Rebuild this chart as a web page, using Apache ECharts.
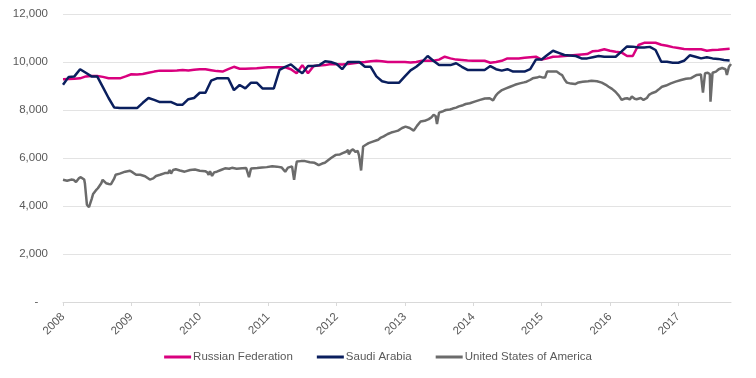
<!DOCTYPE html>
<html>
<head>
<meta charset="utf-8">
<script src="https://cdn.jsdelivr.net/npm/echarts@6/dist/echarts.min.js"></script>
<style>
html,body{margin:0;padding:0;background:#fff;}
#chart{width:756px;height:378px;}
</style>
</head>
<body>
<div id="chart"></div>
<script>
// Monthly series, starting January 2008
var startYear = 2008;
var russia = [9280,9290,9300,9320,9400,9420,9420,9380,9320,9320,9320,9400,
  9490,9480,9500,9550,9600,9640,9640,9640,9650,9670,9650,9680,
  9700,9700,9660,9620,9600,9700,9800,9720,9720,9730,9740,9760,
  9780,9780,9780,9780,9700,9530,9870,9530,9830,9850,9870,9920,
  9910,9900,9920,9950,9980,10000,10030,10050,10030,10000,10000,10000,
  10000,9980,10000,10050,10050,10050,10100,10220,10150,10100,10080,10060,
  10050,10050,10050,9970,10000,10050,10150,10150,10150,10180,10200,10220,
  10100,10150,10220,10230,10250,10270,10290,10310,10330,10450,10470,10530,
  10470,10430,10400,10250,10250,10710,10800,10800,10800,10720,10680,10620,
  10580,10540,10530,10530,10530,10470,10500,10510,10530,10550];
var saudi = [9050,9380,9400,9700,9550,9400,9400,8950,8500,8100,8080,8080,
  8080,8080,8300,8500,8420,8330,8330,8330,8220,8220,8450,8500,
  8720,8720,9220,9320,9320,9320,8830,9040,8900,9140,9140,8900,
  8900,8900,9670,9800,9900,9700,9530,9830,9830,9870,10030,10000,
  9920,9700,10000,10000,10000,9800,9800,9400,9200,9140,9140,9140,
  9400,9650,9800,10000,10250,10050,9870,9870,9870,9950,9800,9670,
  9670,9670,9670,9830,9700,9640,9700,9600,9600,9600,9700,10100,
  10100,10290,10470,10380,10290,10270,10250,10150,10150,10200,10250,10220,
  10220,10220,10430,10650,10640,10600,10600,10630,10500,10010,10010,9970,
  9970,10050,10280,10220,10150,10200,10150,10130,10080,10060];
// United States: irregular dates (decimal years)
var usYears = [2008.00,2008.06,2008.12,2008.16,2008.19,2008.23,2008.26,2008.31,2008.32,2008.35,2008.38,2008.39,2008.42,2008.44,2008.48,2008.51,2008.56,2008.58,2008.63,2008.67,2008.70,2008.75,2008.77,2008.83,2008.91,2008.98,
  2009.02,2009.07,2009.13,2009.20,2009.27,2009.32,2009.36,2009.42,2009.49,2009.54,2009.56,2009.58,2009.61,2009.65,2009.71,2009.78,2009.86,2009.93,
  2010.00,2010.08,2010.11,2010.13,2010.15,2010.18,2010.21,2010.25,2010.31,2010.37,2010.43,2010.47,2010.54,2010.62,2010.68,2010.69,2010.72,2010.75,2010.76,2010.84,2010.91,2010.98,
  2011.06,2011.13,2011.20,2011.25,2011.29,2011.35,2011.38,2011.41,2011.42,2011.48,2011.54,2011.61,2011.68,2011.74,2011.79,2011.83,2011.92,2011.99,
  2012.05,2012.09,2012.14,2012.17,2012.18,2012.21,2012.24,2012.28,2012.31,2012.33,2012.36,2012.39,2012.43,2012.47,2012.53,2012.61,2012.65,2012.69,2012.75,2012.80,2012.85,2012.90,2012.96,
  2013.01,2013.07,2013.13,2013.18,2013.23,2013.29,2013.35,2013.39,2013.42,2013.45,2013.47,2013.50,2013.56,2013.60,2013.66,2013.70,2013.75,2013.79,2013.85,2013.89,2013.95,
  2014.02,2014.10,2014.17,2014.24,2014.29,2014.33,2014.36,2014.42,2014.48,2014.54,2014.61,2014.68,2014.74,2014.78,2014.83,2014.87,2014.93,2014.97,
  2015.02,2015.05,2015.08,2015.15,2015.22,2015.27,2015.30,2015.34,2015.37,2015.43,2015.49,2015.54,2015.60,2015.68,2015.73,2015.81,2015.88,2015.94,2015.98,
  2016.03,2016.08,2016.13,2016.17,2016.22,2016.25,2016.29,2016.32,2016.36,2016.39,2016.45,2016.49,2016.54,2016.57,2016.61,2016.67,2016.71,2016.76,2016.82,2016.89,2016.96,
  2017.04,2017.11,2017.18,2017.23,2017.27,2017.33,2017.36,2017.39,2017.43,2017.46,2017.47,2017.50,2017.55,2017.59,2017.64,2017.66,2017.69,2017.71,2017.74,2017.77];
var usValues = [5090,5050,5100,5080,5000,5150,5200,5100,4950,4050,3950,3910,4300,4500,4650,4740,4950,5090,4950,4920,4900,5150,5300,5350,5430,5470,
  5400,5300,5300,5240,5100,5150,5250,5300,5370,5380,5500,5350,5500,5530,5480,5430,5500,5520,
  5470,5450,5400,5300,5450,5250,5400,5430,5500,5570,5550,5590,5550,5570,5580,5620,5200,5560,5600,5580,5600,5620,
  5660,5640,5600,5430,5600,5650,5090,5700,5850,5870,5870,5820,5800,5700,5770,5800,6000,6130,
  6150,6200,6260,6340,6150,6300,6360,6250,6300,6100,5480,6480,6550,6620,6680,6760,6850,6900,7000,7060,7100,7140,7250,
  7310,7250,7140,7350,7520,7550,7620,7700,7800,7750,7420,7890,7950,8000,8020,8060,8100,8150,8200,8250,8280,
  8350,8420,8480,8490,8400,8600,8700,8830,8900,8970,9050,9110,9150,9180,9250,9320,9350,9390,
  9350,9350,9600,9600,9600,9500,9450,9250,9140,9100,9080,9150,9180,9200,9220,9200,9140,9050,8970,
  8880,8760,8600,8420,8480,8490,8440,8560,8470,8450,8500,8420,8500,8630,8700,8760,8850,8970,9020,9110,9180,
  9250,9300,9320,9400,9460,9480,8720,9530,9550,9500,8350,9550,9600,9700,9750,9800,9700,9460,9800,9920];
var yTicks = [0,2000,4000,6000,8000,10000,12000];
var seriesNames = ['Russian Federation','Saudi Arabia','United States of America'];

function monthly(arr){
  return arr.map(function(v,i){ return [startYear + i/12, v]; });
}
var usData = usYears.map(function(y,i){ return [y, usValues[i]]; });

var chart = echarts.init(document.getElementById('chart'));
var fontFam = '"Liberation Sans", Arial, sans-serif';
chart.setOption({
  animation:false,
  backgroundColor:'#ffffff',
  grid:{left:63,right:25,top:14,bottom:76,containLabel:false},
  legend:{
    bottom:10,left:'center',
    icon:'rect',itemWidth:27,itemHeight:3,itemGap:24,
    textStyle:{color:'#595959',fontSize:11.5,fontFamily:fontFam,padding:[0,0,0,-3]},
    data:seriesNames
  },
  xAxis:{
    type:'value',min:2008,max:2017.77,interval:1,
    axisLine:{show:true,lineStyle:{color:'#d9d9d9',width:1}},
    axisTick:{show:true,length:4,lineStyle:{color:'#d9d9d9'}},
    splitLine:{show:false},
    axisLabel:{rotate:45,margin:13,color:'#595959',fontSize:11.5,fontFamily:fontFam,
      showMaxLabel:false,
      formatter:function(v){ return Math.abs(v-Math.round(v))<1e-6 ? String(Math.round(v)) : ''; }}
  },
  yAxis:{
    type:'value',min:yTicks[0],max:yTicks[yTicks.length-1],interval:2000,
    axisLine:{show:false},axisTick:{show:false},
    splitLine:{show:true,lineStyle:{color:'#e3e3e3',width:1}},
    axisLabel:{margin:15,color:'#595959',fontSize:11.5,fontFamily:fontFam,
      formatter:function(v){ return v===0 ? '-   ' : v.toLocaleString('en-US'); }}
  },
  series:[
    {name:seriesNames[0],type:'line',data:monthly(russia),showSymbol:false,symbol:'none',
     lineStyle:{color:'#d9007e',width:2.5},itemStyle:{color:'#d9007e'},z:3},
    {name:seriesNames[1],type:'line',data:monthly(saudi),showSymbol:false,symbol:'none',
     lineStyle:{color:'#0a1f5e',width:2.5},itemStyle:{color:'#0a1f5e'},z:4},
    {name:seriesNames[2],type:'line',data:usData,showSymbol:false,symbol:'none',
     lineStyle:{color:'#6b6b6b',width:2.5},itemStyle:{color:'#6b6b6b'},z:2}
  ]
});
</script>
</body>
</html>
